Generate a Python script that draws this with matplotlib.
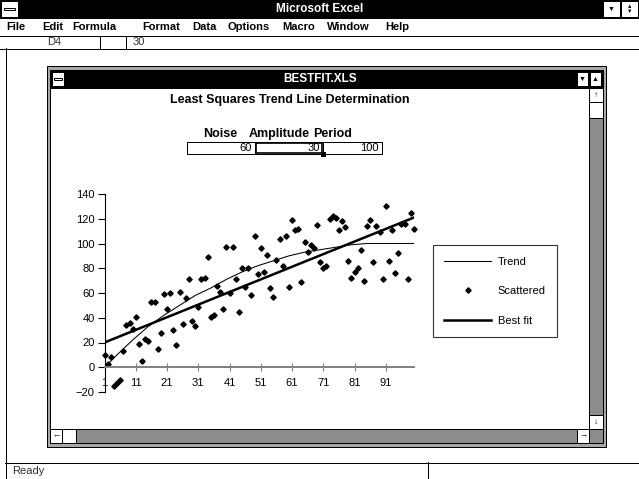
import matplotlib.pyplot as plt
from matplotlib.lines import Line2D
from matplotlib.patches import Rectangle

plt.rcParams['font.family'] = ['Liberation Sans', 'DejaVu Sans']

W, H = 639, 479

# --- chart data ---
x_vals = list(range(1, 101))
scattered = [10, 3, 8, -15, -13, -10, 13, 34, 36, 31,
             41, 19, 5, 23, 21, 53, 53, 15, 28, 59,
             47, 60, 30, 18, 61, 35, 56, 71, 37, 33,
             49, 71, 72, 89, 41, 42, 66, 61, 47, 97,
             60, 97, 71, 45, 80, 65, 80, 58, 106, 75,
             96, 77, 91, 64, 57, 87, 104, 82, 106, 65,
             119, 111, 112, 69, 101, 93, 99, 96, 115, 85,
             80, 82, 120, 122, 121, 111, 118, 113, 86, 72,
             77, 80, 95, 70, 114, 119, 85, 114, 109, 71,
             130, 86, 111, 76, 92, 116, 116, 71, 125, 112]
trend_x = [1, 5, 10, 15, 20, 25, 30, 35, 40, 45, 50,
           55, 60, 65, 70, 75, 80, 85, 90, 95, 100]
trend_y = [0, 10, 22, 33, 42, 50, 58, 64, 71, 77, 82,
           86, 90, 93, 95, 97, 99, 100, 100, 100, 100]
fit_x = [1, 100]
fit_y = [20, 121]

x_ticks = [1, 11, 21, 31, 41, 51, 61, 71, 81, 91]
y_ticks = [-20, 0, 20, 40, 60, 80, 100, 120, 140]

param_names = ['Noise', 'Amplitude', 'Period']
param_values = [60, 30, 100]

menu_items = ['File', 'Edit', 'Formula', 'Format', 'Data',
              'Options', 'Macro', 'Window', 'Help']
menu_x = [6, 42, 72, 142, 192, 228, 282, 327, 385]

fig = plt.figure(figsize=(W / 100, H / 100), dpi=100)

# window chrome drawn in pixel coordinates
ui = fig.add_axes([0, 0, 1, 1])
ui.set_xlim(0, W)
ui.set_ylim(H, 0)
ui.axis('off')


def box(x0, y0, x1, y1, fc='white', ec='black', lw=0.72):
    ui.add_patch(Rectangle((x0, y0), x1 - x0, y1 - y0, fc=fc, ec=ec, lw=lw))


def txt(x, y, s, **kw):
    kw.setdefault('fontsize', 8)
    kw.setdefault('va', 'center')
    ui.text(x, y, s, **kw)


# application title bar
box(0, 0, W, 18, fc='black')
box(1, 1, 18, 17)
box(4, 8, 15, 10, fc='white', ec='black')
txt(320, 9, 'Microsoft Excel', color='white', fontweight='bold', ha='center', fontsize=8.5)
box(603, 1, 620, 17)
txt(611.5, 9, '\u25bc', ha='center', fontsize=5)
box(621, 1, 638, 17)
txt(629.5, 6.5, '\u25b2', ha='center', fontsize=4)
txt(629.5, 11.5, '\u25bc', ha='center', fontsize=4)

# menu bar and formula bar
for name, mx in zip(menu_items, menu_x):
    txt(mx, 27, name, fontweight='bold', fontsize=8)
ui.plot([0, W], [35.5, 35.5], color='black', lw=0.72)
ui.plot([0, W], [48.5, 48.5], color='black', lw=0.72)
ui.plot([100, 100], [36, 48], color='black', lw=0.72)
ui.plot([126, 126], [36, 48], color='black', lw=0.72)
txt(47, 42, 'D4', color='#303030')
txt(133, 42, '30', color='#303030')
ui.plot([5.5, 5.5], [48, 479], color='black', lw=0.72)

# status bar
ui.plot([5, W], [462.5, 462.5], color='black', lw=0.72)
ui.plot([428, 428], [462, 479], color='black', lw=0.72)
txt(12, 471, 'Ready', color='#303030')

# document window
box(47, 66, 606, 447, fc='#a8a8a8')
box(50, 70, 603, 443)
box(50, 70, 603, 88, fc='black')
box(52, 72, 64, 86)
box(54, 78, 62, 80, fc='white')
txt(320, 79, 'BESTFIT.XLS', color='white', fontweight='bold', ha='center', fontsize=8.5)
box(577, 72, 588, 86)
txt(582.5, 79, '\u25bc', ha='center', fontsize=5)
box(590, 72, 601, 86)
txt(595.5, 79, '\u25b2', ha='center', fontsize=5)

# scroll bars
box(589, 88, 603, 429, fc='#8c8c8c')
box(589, 88, 603, 102)
txt(596, 95, '\u2191', ha='center', fontsize=6, fontweight='bold')
box(589, 102, 603, 118)
box(589, 415, 603, 429)
txt(596, 422, '\u2193', ha='center', fontsize=6, fontweight='bold')
box(50, 429, 589, 443, fc='#8c8c8c')
box(50, 429, 62, 443)
txt(56, 436, '\u2190', ha='center', fontsize=6, fontweight='bold')
box(62, 429, 76, 443)
box(577, 429, 589, 443)
txt(583, 436, '\u2192', ha='center', fontsize=6, fontweight='bold')
box(589, 429, 603, 443, fc='#8c8c8c')

# chart title and parameter cells
txt(290, 100, 'Least Squares Trend Line Determination', ha='center',
    fontweight='bold', fontsize=9)
cell_edges = [187, 255, 323, 382]
head_x = [220, 279, 333]
for i, (name, val) in enumerate(zip(param_names, param_values)):
    txt(head_x[i], 134, name, ha='center', fontweight='bold', fontsize=9)
    box(cell_edges[i], 142, cell_edges[i + 1], 154)
    txt(cell_edges[i + 1] - 3, 148, str(val), ha='right', fontsize=8)
box(cell_edges[1] + 1, 143, cell_edges[2] - 1, 153, fc='none', lw=1.2)
box(321, 152, 325, 156, fc='black')

# --- the chart itself ---
ax = fig.add_axes([104.5 / W, 1 - 392 / H, 309.5 / W, 198 / H])
ax.patch.set_alpha(0)
ax.plot(trend_x, trend_y, color='black', lw=0.75, label='Trend')
ax.plot(x_vals, scattered, 'D', color='black', ms=2.7, ls='none',
        clip_on=False, label='Scattered')
ax.plot(fit_x, fit_y, color='black', lw=1.8, label='Best fit')

ax.set_xlim(1, 100)
ax.set_ylim(-20, 140)
ax.set_xticks(x_ticks)
ax.set_yticks(y_ticks)
ax.spines['top'].set_visible(False)
ax.spines['right'].set_visible(False)
ax.spines['bottom'].set_position(('data', 0))
ax.spines['bottom'].set_color('#808080')
ax.spines['bottom'].set_linewidth(1.4)
ax.spines['left'].set_linewidth(0.8)
ax.tick_params(axis='x', direction='inout', length=6, width=0.8,
               color='#808080', labelsize=8, pad=5)
ax.tick_params(axis='y', direction='out', length=5, width=0.8,
               labelsize=8, pad=2)

handles = [Line2D([], [], color='black', lw=0.75),
           Line2D([], [], color='black', marker='D', ms=2.7, ls='none'),
           Line2D([], [], color='black', lw=1.8)]
leg = fig.legend(handles, ['Trend', 'Scattered', 'Best fit'],
                 loc='upper left', bbox_to_anchor=(432.5 / W, 1 - 245 / H),
                 frameon=True, fancybox=False, fontsize=8, numpoints=1,
                 handlelength=4.2, handletextpad=0.6, labelspacing=1.75,
                 borderpad=1.05, borderaxespad=0)
leg.get_frame().set_edgecolor('black')
leg.get_frame().set_linewidth(0.8)

fig.savefig('out.png', dpi=100)
